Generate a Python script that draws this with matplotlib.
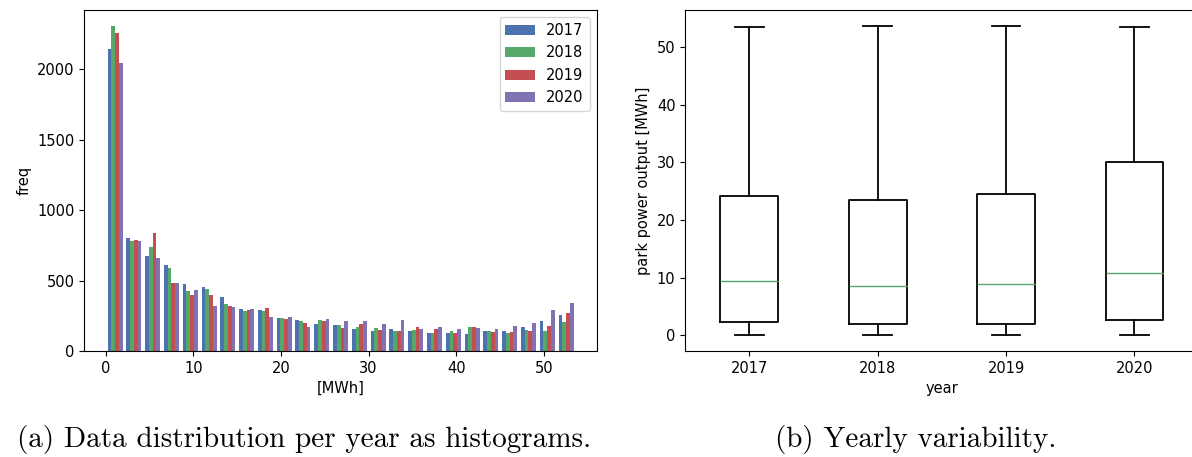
import numpy as np
import matplotlib
matplotlib.use("Agg")
import matplotlib.pyplot as plt

years = ["2017", "2018", "2019", "2020"]
colors = ["#4C72B0", "#55A868", "#C44E52", "#8172B2"]

# histogram: 25 equal bins between 0 and the max output
hist_min = 0.0
hist_max = 53.6
n_bins = 25

freq_2017 = [2145, 799, 676, 610, 477, 454, 385, 298, 291, 236, 221, 189, 181, 158, 142,
             157, 142, 126, 125, 118, 142, 142, 172, 212, 258]
freq_2018 = [2304, 782, 737, 588, 423, 440, 336, 281, 281, 234, 212, 221, 187, 172, 165,
             142, 149, 126, 142, 172, 142, 125, 149, 142, 203]
freq_2019 = [2257, 789, 839, 480, 399, 399, 321, 291, 307, 227, 196, 210, 165, 188, 150,
             142, 172, 157, 125, 172, 132, 132, 142, 180, 266]
freq_2020 = [2044, 782, 659, 484, 430, 321, 312, 298, 243, 243, 172, 229, 213, 213, 189,
             221, 157, 172, 156, 165, 156, 180, 196, 291, 337]

# yearly box plot stats [MWh]
box_min = [0.0, 0.0, 0.0, 0.0]
box_q1 = [2.3, 1.95, 1.95, 2.65]
box_med = [9.4, 8.6, 8.95, 10.85]
box_q3 = [24.1, 23.5, 24.5, 30.0]
box_max = [53.5, 53.7, 53.7, 53.5]

plt.rcParams['font.size'] = 10.5


def plot_hist(ax):
    edges = np.linspace(hist_min, hist_max, n_bins + 1)
    centers = (edges[:-1] + edges[1:]) / 2
    data = [freq_2017, freq_2018, freq_2019, freq_2020]
    ax.hist([centers] * 4, bins=edges, weights=data, color=colors, label=years)
    ax.set_xlabel("[MWh]")
    ax.set_ylabel("freq")
    ax.legend(loc="upper right")


def plot_box(ax):
    stats = []
    for i, y in enumerate(years):
        stats.append({"label": y, "whislo": box_min[i], "q1": box_q1[i], "med": box_med[i],
                      "q3": box_q3[i], "whishi": box_max[i], "fliers": []})
    ax.bxp(stats, showfliers=False,
           boxprops=dict(color="black", linewidth=1.3),
           whiskerprops=dict(color="black", linewidth=1.3),
           capprops=dict(color="black", linewidth=1.3),
           medianprops=dict(color="#55A868", linewidth=1.0))
    ax.set_xlabel("year")
    ax.set_ylabel("park power output [MWh]")


def main():
    fig = plt.figure(figsize=(11.92, 4.57), dpi=100)
    ax1 = fig.add_axes([0.0707, 0.232, 0.430, 0.746])
    ax2 = fig.add_axes([0.5748, 0.232, 0.4307, 0.746])
    plot_hist(ax1)
    plot_box(ax2)
    fig.text(0.255, 0.022, "(a) Data distribution per year as histograms.",
             family="cmr10", fontsize=21, ha="center")
    fig.text(0.768, 0.022, "(b) Yearly variability.",
             family="cmr10", fontsize=21, ha="center")
    fig.savefig("out.png", dpi=100)


if __name__ == '__main__':
    main()
